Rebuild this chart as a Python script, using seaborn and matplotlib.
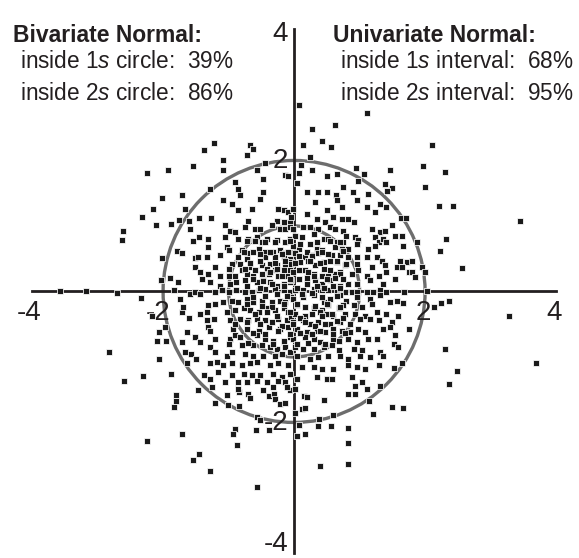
import matplotlib
matplotlib.use("Agg")
import numpy as np
import pandas as pd
import matplotlib.pyplot as plt
import seaborn as sns
from matplotlib.patches import Circle

# points, outside the central 3x3 box
outer_pts = [
    (-1.23, 2.27), (-1.38, 2.16), (-0.67, 2.24), (-0.62, 2.18), (-0.72, 2.08), (-1.09, 2.00),
    (-1.54, 1.91), (-1.93, 1.86), (-2.25, 1.81), (-1.09, 1.85), (-0.45, 1.96), (-0.56, 1.85),
    (-0.48, 1.72), (-0.90, 1.67), (-1.28, 1.57), (-0.85, 1.57), (-0.82, 1.48), (-0.47, 1.52),
    (-1.71, 1.48), (-2.02, 1.43), (-2.16, 1.26), (-1.67, 1.26), (-2.32, 1.13), (-1.75, 1.09),
    (-1.60, 1.08), (-2.11, 1.01), (-1.88, 1.03), (-1.59, 0.95), (-2.61, 0.92), (-2.62, 0.78),
    (-1.54, 0.77), (-1.78, 0.61), (-1.71, 0.59), (-2.01, 0.51), (-1.51, 0.51), (-1.51, 0.37),
    (-2.03, 0.18), (-1.89, 0.21), (-1.77, 0.14), (-2.70, -0.02), (-2.34, -0.10), (-1.59, -0.04),
    (-1.74, -0.12), (-3.57, 0.00), (-3.18, 0.00), (-1.84, 0.02),
    (0.28, 2.48), (0.62, 2.54), (0.13, 2.24), (0.43, 2.30), (0.56, 2.21), (2.11, 2.23),
    (0.24, 2.06), (0.11, 1.93), (0.28, 1.85), (0.08, 1.81), (-0.14, 1.78), (-0.09, 1.77),
    (0.50, 1.76), (0.65, 1.79), (0.94, 1.89), (1.07, 1.79), (1.47, 1.85), (1.97, 1.92),
    (2.31, 1.83), (0.04, 1.65), (0.98, 1.68), (0.75, 1.60), (1.39, 1.64), (1.50, 1.58),
    (1.42, 1.54), (2.00, 1.60), (0.20, 1.52), (0.36, 1.52), (0.51, 1.52), (0.64, 1.48),
    (0.90, 1.52), (1.13, 1.49), (2.22, 1.30), (2.43, 1.30), (1.63, 1.12), (1.71, 1.12),
    (1.49, 1.02), (1.54, 0.85), (1.64, 0.84), (2.32, 0.80), (2.23, 0.61), (1.87, 0.75),
    (1.67, 0.69), (2.56, 0.36), (1.62, 0.47), (1.72, 0.45), (1.80, 0.46), (1.57, 0.38),
    (1.65, 0.37), (1.96, 0.37), (1.75, 0.29), (1.80, 0.29), (2.00, 0.30), (1.54, 0.19),
    (1.85, 0.22), (1.68, -0.01), (2.03, 0.00), (2.24, -0.18), (2.37, -0.14), (2.14, -0.24),
    (1.67, -0.18), (1.57, -0.14), (1.47, -0.16), (0.08, 2.84), (1.11, 2.72), (3.45, 1.08),
    (-2.17, -0.38), (-1.97, -0.54), (-2.06, -0.62), (-2.09, -0.76), (-1.95, -0.76), (-1.71, -0.77),
    (-2.82, -0.92), (-2.07, -1.03), (-1.67, -0.93), (-1.57, -0.96), (-1.64, -1.10), (-2.59, -1.36),
    (-2.30, -1.29), (-1.88, -1.26), (-1.80, -1.58), (-1.80, -1.68), (-1.84, -1.76), (-1.71, -2.17),
    (-2.24, -2.29), (-1.45, -2.48), (-1.55, -2.58), (-1.29, -2.74), (-0.56, -2.98), (-0.90, -2.10),
    (-0.94, -2.17), (-0.87, -2.34), (-0.58, -2.11), (-0.38, -2.11), (-0.57, -1.92), (-0.52, -1.96),
    (-1.01, -1.74), (-0.84, -1.75), (-1.20, -1.70), (-1.02, -1.58), (-0.84, -1.53), (-0.71, -1.56),
    (-0.68, -1.62), (-0.47, -1.51), (-0.38, -1.60), (-0.30, -1.57), (-0.29, -1.64), (-0.22, -1.72),
    (-0.14, -1.70), (-0.07, -1.51), (-1.46, -1.51), (-1.64, -0.62), (-1.51, -0.70), (-1.60, -0.40),
    (-1.71, -0.32), (-1.70, -0.24), (-1.50, -1.03),
    (3.28, -0.38), (3.69, -1.09), (2.31, -0.88), (2.49, -1.21), (2.37, -1.41), (1.75, -0.58),
    (1.58, -0.38), (1.49, -0.47), (1.47, -0.55), (1.52, -0.80), (1.58, -0.85), (1.54, -0.66),
    (1.52, -1.17), (1.65, -1.10), (1.50, -1.76), (1.67, -1.78), (1.15, -1.68), (1.21, -1.87),
    (0.83, -1.57), (0.93, -1.57), (0.60, -1.89), (0.38, -1.94), (0.37, -2.06), (0.56, -2.06),
    (0.83, -2.08), (0.83, -2.31), (0.82, -2.63), (0.40, -2.67), (0.08, -2.04), (0.16, -2.17),
    (0.04, -2.21), (0.12, -1.79), (0.17, -1.78), (0.02, -1.85), (0.45, -1.65), (0.15, -1.59),
    (0.20, -1.61),
]

# dense core, left half (x < 0)
core_left = [
    (-1.45, 1.12), (-1.27, 1.12), (-1.08, 1.40), (-0.95, 1.34), (-0.86, 1.24), (-0.65, 1.26),
    (-0.52, 1.41), (-0.24, 1.26), (-0.16, 1.24), (-0.09, 1.21), (-0.26, 1.08), (-0.16, 1.06),
    (-0.06, 1.06), (-1.05, 1.01), (-0.98, 0.93), (-0.90, 0.91), (-0.70, 1.08), (-0.75, 0.98),
    (-0.60, 0.96), (-0.52, 0.96), (-0.34, 1.01), (-0.21, 0.96), (-0.14, 0.96), (-0.06, 0.98),
    (-1.45, 0.83), (-1.31, 0.80), (-1.05, 0.83), (-0.85, 0.80), (-0.70, 0.80), (-0.57, 0.83),
    (-0.49, 0.75), (-0.42, 0.80), (-0.26, 0.78), (-0.14, 0.75), (-0.06, 0.80), (-1.31, 0.68),
    (-1.03, 0.68), (-1.00, 0.63), (-0.80, 0.63), (-0.72, 0.58), (-0.62, 0.60), (-0.54, 0.65),
    (-0.44, 0.60), (-0.32, 0.60), (-0.21, 0.63), (-0.14, 0.58), (-0.06, 0.60), (-1.46, 0.52),
    (-1.33, 0.52), (-1.13, 0.55), (-0.85, 0.52), (-0.72, 0.50), (-0.44, 0.52), (-0.29, 0.52),
    (-0.16, 0.52), (-0.06, 0.50), (-0.95, 0.42), (-0.82, 0.42), (-0.67, 0.37), (-0.49, 0.40),
    (-0.37, 0.42), (-0.26, 0.40), (-0.14, 0.40), (-0.04, 0.45), (-1.21, 0.37), (-1.00, 0.35),
    (-0.80, 0.32), (-0.60, 0.32), (-0.42, 0.35), (-0.29, 0.32), (-0.16, 0.32), (-0.06, 0.32),
    (-1.44, 0.30), (-1.31, 0.27), (-1.13, 0.24), (-1.00, 0.24), (-0.90, 0.24), (-0.72, 0.27),
    (-0.62, 0.24), (-0.49, 0.27), (-0.39, 0.27), (-0.24, 0.24), (-0.11, 0.24), (-1.41, 0.19),
    (-1.28, 0.14), (-1.13, 0.09), (-0.98, 0.12), (-0.88, 0.14), (-0.75, 0.17), (-0.57, 0.14),
    (-0.47, 0.17), (-0.37, 0.14), (-0.26, 0.09), (-0.16, 0.12), (-0.06, 0.14), (-1.51, -0.01),
    (-1.44, -0.04), (-1.21, -0.01), (-1.10, 0.02), (-1.00, -0.01), (-0.88, 0.02), (-0.75, -0.01),
    (-0.65, -0.01), (-0.54, 0.02), (-0.44, 0.04), (-0.29, 0.04), (-0.16, 0.02), (-0.06, -0.01),
    (-1.31, -0.21), (-1.21, -0.19), (-1.08, -0.16), (-0.95, -0.14), (-0.85, -0.16), (-0.72, -0.11),
    (-0.62, -0.16), (-0.49, -0.14), (-0.34, -0.16), (-0.21, -0.14), (-0.14, -0.16), (-0.04, -0.09),
    (-1.44, -0.34), (-1.33, -0.32), (-1.03, -0.32), (-0.90, -0.29), (-0.77, -0.26), (-0.67, -0.29),
    (-0.54, -0.32), (-0.42, -0.26), (-0.29, -0.29), (-0.16, -0.26), (-0.09, -0.32), (-1.33, -0.44),
    (-1.23, -0.42), (-0.98, -0.44), (-0.82, -0.42), (-0.70, -0.44), (-0.57, -0.42), (-0.44, -0.44),
    (-0.24, -0.42), (-0.11, -0.44), (-0.04, -0.39), (-1.31, -0.54), (-1.28, -0.60), (-0.93, -0.57),
    (-0.90, -0.49), (-0.72, -0.57), (-0.54, -0.60), (-0.39, -0.54), (-0.21, -0.57), (-0.09, -0.54),
    (-1.51, -0.70), (-1.21, -0.72), (-0.98, -0.72), (-0.90, -0.67), (-0.82, -0.70), (-0.57, -0.67),
    (-0.44, -0.72), (-0.32, -0.75), (-0.16, -0.77), (-0.06, -0.70), (-1.44, -0.77), (-1.28, -0.85),
    (-1.00, -0.80), (-0.80, -0.82), (-0.62, -0.82), (-0.49, -0.82), (-0.37, -0.85), (-0.26, -0.88),
    (-0.14, -0.85), (-1.21, -0.93), (-1.03, -0.98), (-0.95, -0.93), (-0.75, -0.95), (-0.62, -0.98),
    (-0.47, -0.98), (-0.29, -0.98), (-0.19, -0.95), (-0.06, -0.93), (-1.28, -1.10), (-1.18, -1.08),
    (-1.08, -1.13), (-0.95, -1.10), (-0.80, -1.13), (-0.67, -1.10), (-0.57, -1.08), (-0.37, -1.13),
    (-0.24, -1.10), (-0.09, -1.13), (-1.38, -1.28), (-1.16, -1.23), (-0.95, -1.28), (-0.77, -1.26),
    (-0.65, -1.28), (-0.52, -1.28), (-0.32, -1.26), (-0.19, -1.31), (-0.06, -1.26), (-1.28, -1.33),
    (-1.05, -1.38), (-0.85, -1.38), (-0.72, -1.38), (-0.57, -1.36), (-0.42, -1.38), (-0.24, -1.36),
    (-0.14, -1.38), (-1.26, -1.46), (-0.85, -1.49), (-0.32, -1.46), (-0.11, -1.46),
]

# dense core, right half (x > 0)
core_right = [
    (-0.01, 1.26), (-0.04, 1.13), (0.32, 1.37), (0.50, 1.24), (0.65, 1.40), (0.73, 1.29),
    (0.96, 1.39), (1.11, 1.29), (1.24, 1.21), (1.31, 1.34), (1.41, 1.29), (0.19, 1.19),
    (0.35, 1.11), (0.47, 1.06), (0.60, 1.13), (0.73, 1.11), (0.83, 1.11), (0.91, 1.06),
    (-0.01, 0.96), (0.14, 0.98), (0.24, 0.98), (0.37, 0.96), (0.55, 0.98), (0.63, 0.96),
    (0.75, 0.93), (1.19, 0.96), (1.31, 0.91), (1.39, 0.93), (0.02, 0.85), (0.12, 0.83),
    (0.30, 0.88), (0.45, 0.80), (0.52, 0.80), (0.65, 0.75), (0.75, 0.75), (0.80, 0.85),
    (0.93, 0.83), (0.98, 0.78), (1.24, 0.83), (1.29, 0.75), (1.36, 0.80), (-0.01, 0.70),
    (0.07, 0.65), (0.24, 0.73), (0.35, 0.65), (0.42, 0.63), (0.63, 0.68), (0.73, 0.65),
    (0.83, 0.65), (0.96, 0.73), (1.13, 0.65), (1.24, 0.70), (1.41, 0.75), (0.02, 0.58),
    (0.17, 0.52), (0.27, 0.55), (0.37, 0.58), (0.58, 0.55), (0.70, 0.55), (0.83, 0.52),
    (0.96, 0.52), (1.11, 0.52), (1.26, 0.52), (1.34, 0.47), (-0.04, 0.42), (0.09, 0.45),
    (0.22, 0.47), (0.32, 0.40), (0.45, 0.45), (0.55, 0.47), (0.65, 0.45), (0.78, 0.40),
    (0.96, 0.42), (1.19, 0.37), (1.39, 0.40), (-0.01, 0.30), (0.17, 0.32), (0.30, 0.27),
    (0.42, 0.24), (0.52, 0.24), (0.63, 0.27), (0.70, 0.30), (0.88, 0.27), (0.98, 0.32),
    (1.11, 0.24), (1.29, 0.24), (1.41, 0.30), (-0.04, 0.17), (0.07, 0.19), (0.19, 0.14),
    (0.32, 0.17), (0.42, 0.12), (0.55, 0.17), (0.70, 0.09), (0.83, 0.12), (0.96, 0.12),
    (1.16, 0.17), (1.36, 0.12), (0.02, 0.02), (0.14, 0.02), (0.30, 0.04), (0.42, 0.02),
    (0.52, 0.02), (0.65, -0.01), (0.78, -0.01), (0.88, -0.01), (0.96, -0.01), (1.11, -0.01),
    (1.21, -0.01), (1.31, 0.02), (1.41, -0.01), (-0.01, -0.11), (0.14, -0.09), (0.30, -0.06),
    (0.45, -0.16), (0.55, -0.11), (0.70, -0.06), (0.80, -0.14), (0.96, -0.09), (1.16, -0.11),
    (1.31, -0.06), (0.04, -0.21), (0.17, -0.24), (0.30, -0.26), (0.42, -0.29), (0.52, -0.21),
    (0.68, -0.26), (0.75, -0.21), (0.91, -0.21), (1.03, -0.24), (1.19, -0.19), (0.02, -0.34),
    (0.17, -0.37), (0.40, -0.32), (0.50, -0.34), (0.60, -0.37), (0.78, -0.34), (0.93, -0.34),
    (1.08, -0.37), (1.26, -0.32), (1.41, -0.34), (-0.01, -0.47), (0.14, -0.44), (0.24, -0.49),
    (0.37, -0.47), (0.55, -0.49), (0.70, -0.47), (0.85, -0.49), (1.01, -0.42), (1.16, -0.42),
    (1.29, -0.44), (0.04, -0.57), (0.19, -0.62), (0.35, -0.60), (0.47, -0.62), (0.60, -0.57),
    (0.73, -0.60), (0.85, -0.62), (0.98, -0.57), (1.08, -0.62), (1.36, -0.57), (-0.01, -0.72),
    (0.17, -0.70), (0.30, -0.72), (0.40, -0.77), (0.60, -0.72), (0.83, -0.72), (0.96, -0.77),
    (1.13, -0.72), (1.26, -0.72), (0.02, -0.85), (0.14, -0.88), (0.30, -0.88), (0.45, -0.85),
    (0.58, -0.82), (0.68, -0.90), (0.91, -0.88), (1.03, -0.90), (1.31, -0.93), (0.04, -0.98),
    (0.24, -1.03), (0.37, -1.00), (0.52, -0.98), (0.70, -0.98), (0.83, -1.03), (1.01, -0.98),
    (1.16, -1.00), (1.36, -0.98), (0.12, -1.16), (0.30, -1.16), (0.42, -1.18), (0.60, -1.18),
    (0.83, -1.13), (0.96, -1.16), (1.08, -1.18), (1.29, -1.13), (0.04, -1.33), (0.35, -1.31),
    (0.50, -1.33), (0.58, -1.33), (0.88, -1.31), (1.03, -1.38), (1.31, -1.44), (0.02, -1.49),
    (0.93, -1.44), (1.11, -1.49),
]

# extra points packed around the origin
core_center = [
    (-0.72, 0.77), (-0.60, 0.77), (-0.44, 0.75), (-0.29, 0.75), (-0.06, 0.77), (0.09, 0.72),
    (0.35, 0.75), (0.55, 0.77), (0.70, 0.75), (-0.77, 0.60), (-0.52, 0.57), (-0.37, 0.60),
    (-0.19, 0.57), (-0.09, 0.60), (0.07, 0.54), (0.19, 0.60), (0.27, 0.54), (0.42, 0.60),
    (0.52, 0.57), (0.75, 0.62), (-0.67, 0.44), (-0.52, 0.47), (-0.29, 0.44), (-0.14, 0.47),
    (0.02, 0.44), (0.24, 0.47), (0.40, 0.44), (0.65, 0.47), (0.80, 0.42), (-0.75, 0.34),
    (-0.60, 0.32), (-0.37, 0.29), (-0.26, 0.34), (0.07, 0.32), (0.22, 0.29), (0.45, 0.34),
    (0.55, 0.32), (0.70, 0.26), (-0.62, 0.19), (-0.47, 0.16), (-0.19, 0.24), (-0.06, 0.19),
    (0.19, 0.21), (0.30, 0.24), (0.50, 0.19), (0.63, 0.21), (0.75, 0.19), (-0.72, 0.09),
    (-0.52, 0.06), (-0.34, 0.11), (-0.16, 0.09), (0.04, 0.06), (0.19, 0.11), (0.35, 0.09),
    (0.45, 0.06), (0.60, 0.09), (0.70, 0.06), (-0.62, -0.09), (-0.44, -0.07), (-0.26, -0.04),
    (-0.11, -0.07), (0.12, -0.04), (0.27, -0.02), (0.42, -0.09), (0.65, -0.07), (-0.72, -0.19),
    (-0.49, -0.22), (-0.34, -0.24), (-0.16, -0.19), (0.04, -0.19), (0.17, -0.24), (0.32, -0.22),
    (0.50, -0.19), (0.70, -0.24), (-0.60, -0.35), (-0.42, -0.32), (-0.26, -0.37), (-0.06, -0.32),
    (0.09, -0.40), (0.27, -0.35), (0.42, -0.37), (0.58, -0.35), (0.75, -0.40), (-0.72, -0.47),
    (-0.52, -0.50), (-0.34, -0.47), (-0.19, -0.52), (-0.01, -0.50), (0.17, -0.47), (0.32, -0.52),
    (0.47, -0.50), (0.65, -0.45), (-0.62, -0.63), (-0.44, -0.65), (-0.24, -0.60), (-0.06, -0.65),
    (0.09, -0.63), (0.27, -0.65), (0.40, -0.60), (0.60, -0.65), (0.78, -0.63), (-0.70, -0.78),
    (-0.32, -0.80), (-0.16, -0.75), (0.04, -0.80), (0.22, -0.78), (0.47, -0.80), (0.68, -0.75),
]

circle_radii = [1, 2]
tick_values = [-4, 4]
axis_labels = ["-4", "-2", "2", "4"]
label_values = [-4, -2, 2, 4]

biv_title = "Bivariate Normal:"
biv_lines = ["inside 1$\\mathit{s}$ circle:  39%", "inside 2$\\mathit{s}$ circle:  86%"]
uni_title = "Univariate Normal:"
uni_lines = ["inside 1$\\mathit{s}$ interval:  68%", "inside 2$\\mathit{s}$ interval:  95%"]

sns.set_style("white")
plt.rcParams["font.family"] = ["Liberation Sans", "DejaVu Sans"]
plt.rcParams["mathtext.fontset"] = "custom"
plt.rcParams["mathtext.rm"] = "Liberation Sans"
plt.rcParams["mathtext.it"] = "Liberation Sans:italic"

ink = "#231f20"
W, H = 579, 558

df = pd.DataFrame(outer_pts + core_left + core_right + core_center, columns=["x", "y"])

fig = plt.figure(figsize=(W / 100, H / 100), dpi=100)
ax = fig.add_axes([0, 0, 1, 1])

for r in circle_radii:
    ax.add_patch(Circle((0, 0), r, fill=False, ec="#6d6d6d", lw=2.4, zorder=2))

sns.scatterplot(data=df, x="x", y="y", marker="s", s=19, color="#1a1a1a",
                edgecolor="white", linewidth=0.55, ax=ax, zorder=4)

ax.set_xlim(-4.49, 4.35)
ax.set_ylim(-4.07, 4.45)
ax.set_xlabel("")
ax.set_ylabel("")

for side in ["top", "right"]:
    ax.spines[side].set_visible(False)
for side in ["left", "bottom"]:
    ax.spines[side].set_position(("data", 0))
    ax.spines[side].set_bounds(-4, 4)
    ax.spines[side].set_linewidth(2)
    ax.spines[side].set_color(ink)
    ax.spines[side].set_zorder(3)
ax.set_xticks(tick_values)
ax.set_yticks(tick_values)
ax.tick_params(direction="in", length=5, width=2, color=ink,
               labelbottom=False, labelleft=False)

# axis numbers
x_off = {-4: -0.04, -2: -0.07, 2: -0.02, 4: -0.03}
for v, lab in zip(label_values, axis_labels):
    ax.text(v + x_off[v], -0.44, lab, ha="center", va="baseline", fontsize=20, color=ink)
y_base = {4: 3.83, 2: 1.88, -2: -2.12, -4: -3.97}
for v, lab in zip(label_values, axis_labels):
    ax.text(-0.09, y_base[v], lab, ha="right", va="baseline", fontsize=20, color=ink)

# annotation blocks
def px(x, y):
    return x / W, 1 - y / H

fig.text(*px(13, 42), biv_title, fontsize=16.5, fontweight="bold", color=ink)
fig.text(*px(333, 42), uni_title, fontsize=16.5, fontweight="bold", color=ink)
for i, (b, u) in enumerate(zip(biv_lines, uni_lines)):
    fig.text(*px(20, 68 + 32 * i), b, fontsize=16.3, color=ink)
    fig.text(*px(340, 68 + 32 * i), u, fontsize=16.3, color=ink)

fig.savefig("out.png", dpi=100)
